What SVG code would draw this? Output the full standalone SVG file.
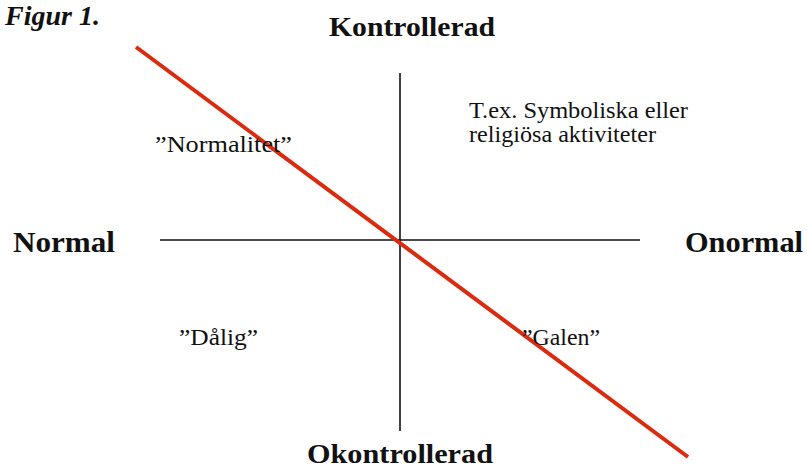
<svg xmlns="http://www.w3.org/2000/svg" width="807" height="469" viewBox="0 0 807 469">
<style>
.t{font-family:"Liberation Serif","Times New Roman",serif;fill:#111}
.b{font-weight:bold}
.n{font-size:24px}
.ax{stroke:#111;stroke-width:1.6;fill:none}
.red{stroke:#dc2a0e;stroke-width:4;fill:none}
</style>
<rect width="807" height="469" fill="#fff"/>
<text class="t b" x="5" y="25" font-size="27" font-style="italic" textLength="95" lengthAdjust="spacingAndGlyphs">Figur 1.</text>
<g id="connectors">
<line class="ax" x1="400" y1="73" x2="400" y2="431"/>
<line class="ax" x1="160" y1="240" x2="640" y2="240"/>
<line class="red" x1="136" y1="47" x2="688" y2="457"/>
</g>
<g id="kontrollerad"><text class="t b" x="329" y="36" font-size="28" textLength="166" lengthAdjust="spacingAndGlyphs">Kontrollerad</text></g>
<g id="okontrollerad"><text class="t b" x="307" y="463" font-size="27" textLength="186" lengthAdjust="spacingAndGlyphs">Okontrollerad</text></g>
<g id="normal"><text class="t b" x="13" y="252" font-size="30" textLength="102" lengthAdjust="spacingAndGlyphs">Normal</text></g>
<g id="onormal"><text class="t b" x="685" y="252" font-size="30" textLength="118" lengthAdjust="spacingAndGlyphs">Onormal</text></g>
<g id="normalitet"><text class="t n" x="155" y="152" textLength="137" lengthAdjust="spacingAndGlyphs">”Normalitet”</text></g>
<g id="symboliska">
<text class="t n" x="469" y="118" textLength="219" lengthAdjust="spacingAndGlyphs">T.ex. Symboliska eller</text>
<text class="t n" x="469" y="142" textLength="187" lengthAdjust="spacingAndGlyphs">religiösa aktiviteter</text>
</g>
<g id="dalig"><text class="t n" x="179" y="345" textLength="79" lengthAdjust="spacingAndGlyphs">”Dålig”</text></g>
<g id="galen"><text class="t n" x="522" y="345" textLength="78" lengthAdjust="spacingAndGlyphs">”Galen”</text></g>
</svg>
